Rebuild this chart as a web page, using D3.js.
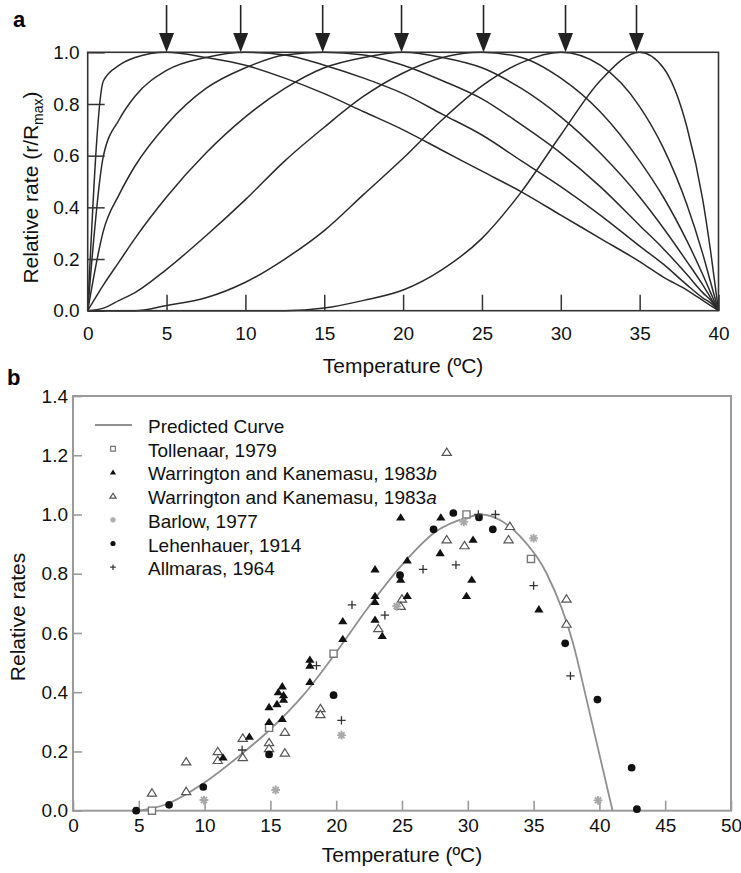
<!DOCTYPE html>
<html>
<head>
<meta charset="utf-8">
<script src="https://cdn.jsdelivr.net/npm/d3@7"></script>
<style>
body { margin: 0; background: #fff; }
svg { font-family: "Liberation Sans", Arial, sans-serif; }
</style>
</head>
<body>
<div id="chart"></div>
<script>
// ---- panel a: relative rate curves, one per optimum temperature ----
const tempA = [0, 1, 2, 3, 5, 7.5, 10, 12.5, 15, 17.5, 20, 22.5, 25, 27.5, 30, 32.5, 35, 36.5, 38, 39, 39.5, 40];
const curve5  = [0, 0.89, 0.95, 0.98, 1.00, 0.98, 0.95, 0.90, 0.84, 0.77, 0.70, 0.62, 0.54, 0.46, 0.37, 0.28, 0.19, 0.13, 0.08, 0.04, 0.02, 0];
const curve10 = [0, 0.60, 0.74, 0.83, 0.93, 0.98, 1.00, 0.99, 0.95, 0.90, 0.84, 0.76, 0.68, 0.58, 0.48, 0.37, 0.25, 0.18, 0.10, 0.05, 0.03, 0];
const curve15 = [0, 0.31, 0.45, 0.56, 0.72, 0.86, 0.94, 0.99, 1.00, 0.99, 0.95, 0.89, 0.82, 0.72, 0.61, 0.48, 0.33, 0.24, 0.14, 0.07, 0.04, 0];
const curve20 = [0, 0.10, 0.19, 0.28, 0.44, 0.61, 0.75, 0.86, 0.94, 0.98, 1.00, 0.98, 0.94, 0.86, 0.75, 0.61, 0.44, 0.32, 0.19, 0.10, 0.05, 0];
const curve25 = [0, 0.01, 0.04, 0.07, 0.16, 0.29, 0.43, 0.58, 0.71, 0.83, 0.92, 0.98, 1.00, 0.98, 0.90, 0.77, 0.58, 0.44, 0.27, 0.14, 0.07, 0];
const curve30 = [0, 0, 0, 0, 0.02, 0.05, 0.11, 0.20, 0.31, 0.45, 0.59, 0.74, 0.87, 0.96, 1.00, 0.95, 0.79, 0.63, 0.41, 0.22, 0.11, 0];
const curve35 = [0, 0, 0, 0, 0, 0, 0, 0, 0.01, 0.04, 0.08, 0.16, 0.28, 0.46, 0.68, 0.89, 1.00, 0.94, 0.71, 0.43, 0.23, 0];
const arrowTemps = [5, 9.7, 14.9, 19.9, 25.1, 30.3, 34.8];
const ticksXA = [0, 5, 10, 15, 20, 25, 30, 35, 40];
const ticksYA = [0, 0.2, 0.4, 0.6, 0.8, 1.0];

// ---- panel b: predicted curve and observations ----
const predTemp = [5, 7, 10, 12.5, 15, 17.5, 20, 22.5, 25, 27.5, 30, 31, 32.5, 34, 36, 38, 39, 40, 41];
const predRate = [0, 0.02, 0.095, 0.18, 0.275, 0.39, 0.535, 0.69, 0.83, 0.94, 0.99, 1.0, 0.98, 0.925, 0.8, 0.565, 0.38, 0.19, 0];
const tollenaar = [[6.0, 0.0], [14.9, 0.28], [19.8, 0.53], [29.9, 1.0], [34.8, 0.85]];
const warrB = [[11.4, 0.18], [13.4, 0.25], [14.9, 0.30], [14.9, 0.35], [15.5, 0.36], [15.6, 0.40], [15.9, 0.42],
  [16.0, 0.39], [16.0, 0.375], [15.9, 0.31], [18.0, 0.51], [18.0, 0.49], [18.0, 0.435], [20.5, 0.64], [20.5, 0.58],
  [22.95, 0.815], [22.95, 0.725], [22.95, 0.705], [22.95, 0.645], [23.5, 0.59], [24.9, 0.99], [24.9, 0.78],
  [25.4, 0.845], [25.4, 0.725], [27.95, 0.99], [27.9, 0.87], [29.9, 0.725], [30.4, 0.915], [30.3, 0.78], [35.4, 0.68]];
const warrA = [[6.0, 0.06], [8.6, 0.065], [8.6, 0.165], [11.0, 0.20], [11.0, 0.17], [12.9, 0.245], [12.9, 0.18],
  [14.9, 0.23], [14.9, 0.21], [16.1, 0.265], [16.1, 0.195], [18.8, 0.345], [18.8, 0.325], [23.2, 0.615],
  [25.0, 0.715], [24.9, 0.69], [28.4, 1.21], [28.4, 0.915], [29.75, 0.895], [33.2, 0.96], [33.1, 0.915],
  [37.5, 0.715], [37.5, 0.63]];
const barlow = [[9.95, 0.036], [15.4, 0.07], [20.4, 0.255], [24.6, 0.69], [29.7, 0.975], [35.0, 0.92], [39.9, 0.035]];
const lehenhauer = [[4.8, 0.0], [7.3, 0.02], [9.9, 0.08], [14.9, 0.19], [19.8, 0.39], [24.85, 0.795], [27.4, 0.95],
  [28.9, 1.005], [30.85, 0.99], [31.9, 0.95], [37.4, 0.565], [39.85, 0.375], [42.45, 0.145], [42.85, 0.005]];
const allmaras = [[12.85, 0.205], [18.5, 0.49], [20.4, 0.305], [21.2, 0.695], [23.7, 0.66], [26.6, 0.815],
  [29.1, 0.83], [30.8, 1.0], [32.1, 1.0], [35.0, 0.76], [37.8, 0.455]];
const legendLabels = ["Predicted Curve", "Tollenaar, 1979", "Warrington and Kanemasu, 1983", "Warrington and Kanemasu, 1983", "Barlow, 1977", "Lehenhauer, 1914", "Allmaras, 1964"];
const legendSuffix = ["", "", "b", "a", "", "", ""];
const ticksXB = [0, 5, 10, 15, 20, 25, 30, 35, 40, 45, 50];
const ticksYB = [0, 0.2, 0.4, 0.6, 0.8, 1.0, 1.2, 1.4];

const svg = d3.select("#chart").append("svg").attr("width", 741).attr("height", 873);

// ================= panel a =================
const xA = d3.scaleLinear().domain([0, 40]).range([87.7, 718.5]);
const yA = d3.scaleLinear().domain([0, 1]).range([310.7, 52.3]);
const ga = svg.append("g");

const lineA = d3.line().x((d, i) => xA(tempA[i])).y(d => yA(d)).curve(d3.curveMonotoneX);
ga.selectAll("path.curve")
  .data([curve5, curve10, curve15, curve20, curve25, curve30, curve35])
  .join("path")
  .attr("class", "curve")
  .attr("d", lineA)
  .attr("fill", "none")
  .attr("stroke", "#2a2a2a")
  .attr("stroke-width", 1.5);

ga.append("rect")
  .attr("x", xA(0)).attr("y", yA(1))
  .attr("width", xA(40) - xA(0)).attr("height", yA(0) - yA(1))
  .attr("fill", "none").attr("stroke", "#333").attr("stroke-width", 1.6);

const axA = ga.append("g").attr("transform", `translate(0,${yA(0)})`)
  .call(d3.axisBottom(xA).tickValues(ticksXA).tickSize(-16).tickPadding(16).tickFormat(d3.format("d")));
const ayA = ga.append("g").attr("transform", `translate(${xA(0)},0)`)
  .call(d3.axisLeft(yA).tickValues(ticksYA).tickSize(-17).tickPadding(8).tickFormat(d3.format(".1f")));
[axA, ayA].forEach(a => {
  a.select(".domain").remove();
  a.selectAll("line").attr("stroke", "#333").attr("stroke-width", 1.5);
  a.selectAll("text").attr("font-size", 19).attr("fill", "#111").attr("font-family", "Liberation Sans, Arial, sans-serif");
});

// arrows marking the optimum temperatures
ga.selectAll("line.arrow").data(arrowTemps).join("line")
  .attr("x1", d => xA(d)).attr("x2", d => xA(d))
  .attr("y1", 5).attr("y2", 36)
  .attr("stroke", "#222").attr("stroke-width", 1.6);
ga.selectAll("path.head").data(arrowTemps).join("path")
  .attr("d", d => `M${xA(d) - 7.5},33L${xA(d) + 7.5},33L${xA(d)},${yA(1)}Z`)
  .attr("fill", "#222");

ga.append("text").attr("x", xA(20)).attr("y", 373).attr("text-anchor", "middle")
  .attr("font-size", 21).attr("fill", "#111").text("Temperature (ºC)");
const ytA = ga.append("text").attr("transform", `translate(38,${(yA(0) + yA(1)) / 2 + 6}) rotate(-90)`)
  .attr("text-anchor", "middle").attr("font-size", 21).attr("fill", "#111");
ytA.append("tspan").text("Relative rate (r/R");
ytA.append("tspan").attr("font-size", 14).attr("dy", 5).text("max");
ytA.append("tspan").attr("dy", -5).text(")");
svg.append("text").attr("x", 13).attr("y", 27).attr("font-size", 22).attr("font-weight", "bold").text("a");

// ================= panel b =================
const xB = d3.scaleLinear().domain([0, 50]).range([73, 731]);
const yB = d3.scaleLinear().domain([0, 1.4]).range([810.7, 396]);
const gb = svg.append("g");

const axB = gb.append("g").attr("transform", `translate(0,${yB(0)})`)
  .call(d3.axisBottom(xB).tickValues(ticksXB).tickSize(-10).tickPadding(8).tickFormat(d3.format("d")));
const ayB = gb.append("g").attr("transform", `translate(${xB(0)},0)`)
  .call(d3.axisLeft(yB).tickValues(ticksYB).tickSize(-9).tickPadding(5).tickFormat(d3.format(".1f")));
[axB, ayB].forEach(a => {
  a.select(".domain").remove();
  a.selectAll("line").attr("stroke", "#9a9a9a").attr("stroke-width", 1.6);
  a.selectAll("text").attr("font-size", 19).attr("fill", "#111").attr("font-family", "Liberation Sans, Arial, sans-serif");
});

gb.append("rect")
  .attr("x", xB(0)).attr("y", yB(1.4))
  .attr("width", xB(50) - xB(0)).attr("height", yB(0) - yB(1.4))
  .attr("fill", "none").attr("stroke", "#9a9a9a").attr("stroke-width", 2);

const lineB = d3.line().x((d, i) => xB(predTemp[i])).y(d => yB(d)).curve(d3.curveMonotoneX);
gb.append("path").datum(predRate).attr("d", lineB)
  .attr("fill", "none").attr("stroke", "#8f8f8f").attr("stroke-width", 1.8);

// marker shapes
function triPath(s) { return `M0,${-s}L${s * 1.1},${s * 0.75}L${-s * 1.1},${s * 0.75}Z`; }
function sqPath(s) { return `M${-s},${-s}h${2 * s}v${2 * s}h${-2 * s}Z`; }
function circPath(r) { return `M${r},0A${r},${r} 0 1,1 ${-r},0A${r},${r} 0 1,1 ${r},0Z`; }
function plusPath(s) { return `M${-s},0H${s}M0,${-s}V${s}`; }
function starPath(s) {
  const k = s * 0.7071;
  return `M${-s},0H${s}M0,${-s}V${s}M${-k},${-k}L${k},${k}M${-k},${k}L${k},${-k}`;
}

const styles = [
  null,
  { data: tollenaar, d: s => sqPath(s * 0.85), fill: "#fff", stroke: "#777", sw: 1.4 },
  { data: warrB, d: s => triPath(s), fill: "#111", stroke: "none", sw: 0 },
  { data: warrA, d: s => triPath(s), fill: "#fff", stroke: "#555", sw: 1.2 },
  { data: barlow, d: s => starPath(s * 1.05), fill: "none", stroke: "#a9a9a9", sw: 1.9 },
  { data: lehenhauer, d: s => circPath(s * 0.92), fill: "#111", stroke: "none", sw: 0 },
  { data: allmaras, d: s => plusPath(s), fill: "none", stroke: "#333", sw: 1.3 }
];

[3, 1, 4, 2, 5, 6].forEach(k => {
  const st = styles[k];
  gb.append("g").selectAll("path").data(st.data).join("path")
    .attr("transform", d => `translate(${xB(d[0])},${yB(d[1])})`)
    .attr("d", st.d(4.2))
    .attr("fill", st.fill).attr("stroke", st.stroke).attr("stroke-width", st.sw);
});

// legend
const lg = gb.append("g");
legendLabels.forEach((lab, i) => {
  const y = 426 + i * 23.7;
  if (i === 0) {
    lg.append("line").attr("x1", 95).attr("x2", 132).attr("y1", y - 1).attr("y2", y - 1)
      .attr("stroke", "#8f8f8f").attr("stroke-width", 1.8);
  } else {
    const st = styles[i];
    lg.append("path").attr("transform", `translate(113,${y - 1})`).attr("d", st.d(2.8))
      .attr("fill", st.fill).attr("stroke", st.stroke).attr("stroke-width", Math.min(st.sw, 1.2));
  }
  const t = lg.append("text").attr("x", 148).attr("y", y + 7).attr("font-size", 19).attr("fill", "#111");
  t.append("tspan").text(lab);
  if (legendSuffix[i]) t.append("tspan").attr("font-style", "italic").text(legendSuffix[i]);
});

gb.append("text").attr("x", xB(25)).attr("y", 862).attr("text-anchor", "middle")
  .attr("font-size", 21).attr("fill", "#111").text("Temperature (ºC)");
gb.append("text").attr("transform", "translate(25,617) rotate(-90)")
  .attr("text-anchor", "middle").attr("font-size", 21).attr("fill", "#111").text("Relative rates");
svg.append("text").attr("x", 7).attr("y", 385).attr("font-size", 22).attr("font-weight", "bold").text("b");
</script>
</body>
</html>
